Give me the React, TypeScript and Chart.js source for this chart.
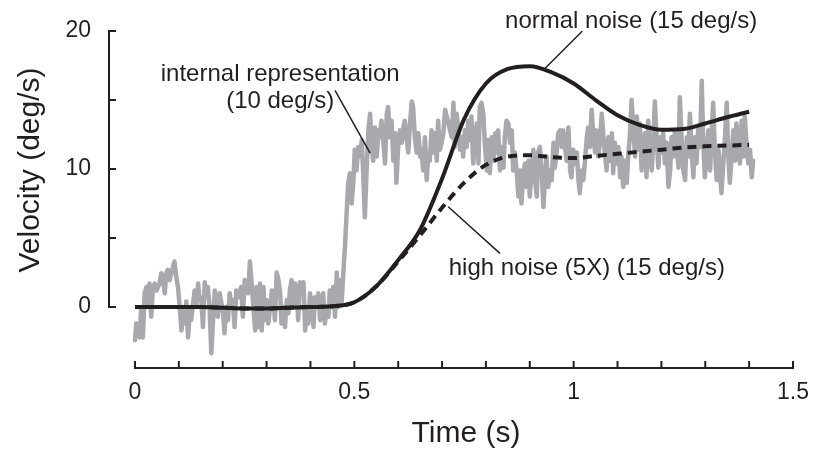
import React, { useEffect, useRef } from 'react';
import { Chart, registerables } from 'chart.js';

Chart.register(...registerables);

const FONT = '"Liberation Sans", Arial, Helvetica, sans-serif';
const INK = '#231f20';
const GRAY = '#a7a9ac';

// Axis ticks
const xTickValues = [0, 0.1, 0.2, 0.3, 0.4, 0.5, 0.6, 0.7, 0.8, 0.9, 1, 1.1, 1.2, 1.3, 1.4, 1.5];
const xLabelledTicks = [0, 0.5, 1, 1.5];
const yTickValues = [0, 5, 10, 15, 20];
const yLabelledTicks = [0, 10, 20];

// Smooth model curves
const modelTime = [0, 0.05, 0.1, 0.15, 0.2, 0.25, 0.3, 0.35, 0.4, 0.45, 0.5, 0.55, 0.6, 0.65, 0.7,
  0.75, 0.8, 0.85, 0.9, 0.95, 1.0, 1.05, 1.1, 1.15, 1.2, 1.25, 1.3, 1.35, 1.4];
const normalNoise = [0, 0, 0, 0, -0.05, -0.1, -0.1, -0.05, 0, 0.05, 0.35, 1.5, 3.4, 5.6, 9.3,
  13.6, 16.2, 17.25, 17.45, 17.0, 16.2, 15.0, 13.9, 13.2, 12.85, 12.9, 13.3, 13.75, 14.15];
const highNoise = [0, 0, 0, 0, -0.05, -0.1, -0.1, -0.05, 0, 0.05, 0.35, 1.5, 3.3, 5.2, 7.2,
  9.0, 10.3, 10.9, 11.0, 10.85, 10.8, 10.95, 11.1, 11.25, 11.4, 11.55, 11.65, 11.7, 11.75];

// Noisy internal representation trace: [time, velocity]
const internalRepresentation: [number, number][] = [
  [0.000, -2.4], [0.003, -1.2], [0.011, -2.2], [0.014, 0], [0.018, -2.2], [0.022, 1.0], [0.026, 1.45], [0.030, 0], [0.033, 1.7], [0.037, -0.7],
  [0.041, 1.45], [0.045, 1.7], [0.049, 1.2], [0.056, 1.7], [0.060, 2.45], [0.064, 1.95], [0.068, 1.0], [0.071, 2.45], [0.075, 2.7], [0.079, 1.95],
  [0.083, 2.45], [0.090, 3.3], [0.094, 2.2], [0.098, 1.45], [0.102, 0], [0.106, -1.7], [0.109, 0], [0.113, -1.2], [0.117, 0.4], [0.121, -2.2],
  [0.125, -0.2], [0.128, -0.95], [0.136, 1.2], [0.140, 0], [0.144, 1.7], [0.147, 0.5], [0.151, 0.7], [0.155, -1.45], [0.159, 1.8], [0.163, 1.0],
  [0.166, 1.45], [0.170, 0], [0.174, -3.35], [0.178, -0.95], [0.182, 1.2], [0.185, 0], [0.189, -0.7], [0.193, 1.0], [0.201, -0.45], [0.204, -1.9],
  [0.208, 0], [0.212, -0.95], [0.216, 1.0], [0.220, 0], [0.223, 0.5], [0.227, -1.45], [0.231, 1.2], [0.235, 0.7], [0.242, 1.45], [0.246, -0.7],
  [0.250, 1.95], [0.258, 1.0],
  [0.262, 3.3], [0.266, 1.7], [0.270, 0], [0.274, -1.7], [0.277, 1.45], [0.281, -1.45], [0.285, 1.7], [0.289, -1.7], [0.293, 1.45], [0.296, -0.95],
  [0.300, 0.5], [0.304, -1.2], [0.308, 0], [0.312, 1.2], [0.315, 0.7], [0.319, -0.95], [0.323, 2.5], [0.327, 1.95], [0.331, 1.0], [0.334, -1.2],
  [0.338, 0], [0.342, -1.45], [0.346, 0.5], [0.350, -0.45], [0.353, 1.2], [0.357, 1.95], [0.361, 0], [0.365, 1.7], [0.369, 1.0], [0.372, -0.95],
  [0.376, 1.8], [0.380, 1.2], [0.384, 1.8], [0.388, -1.7], [0.391, 0], [0.395, -1.2], [0.399, 1.0], [0.403, 0], [0.407, -1.45], [0.410, 0.7],
  [0.414, 0], [0.418, 1.0], [0.422, -0.95], [0.426, 0], [0.429, 1.0], [0.433, -1.2], [0.437, 0], [0.441, -0.7], [0.444, 1.2], [0.448, 0],
  [0.452, 1.45], [0.456, -0.7], [0.460, 2.5], [0.463, 0], [0.467, 1.95],
  [0.471, 0.3], [0.475, 2.5], [0.479, 4.6], [0.482, 6.5], [0.486, 9.0], [0.490, 9.7], [0.494, 7.5], [0.498, 9.2], [0.501, 11.4], [0.505, 9.9],
  [0.509, 11.6], [0.513, 10.9], [0.517, 12.1], [0.520, 9.9], [0.524, 6.5], [0.528, 9.9], [0.532, 12.8], [0.536, 14.0], [0.539, 11.9], [0.543, 10.6],
  [0.547, 13.0], [0.551, 10.9], [0.555, 12.8], [0.558, 12.3], [0.562, 13.5], [0.566, 12.1], [0.570, 10.4], [0.574, 14.0], [0.577, 14.5], [0.581, 12.3],
  [0.585, 13.5], [0.589, 10.6], [0.593, 12.6], [0.596, 9.0], [0.600, 11.6], [0.604, 12.8], [0.608, 11.9], [0.612, 13.0], [0.615, 13.5], [0.619, 12.3],
  [0.623, 11.2], [0.627, 13.3], [0.631, 14.9], [0.634, 14.5], [0.638, 12.3], [0.642, 11.2], [0.646, 12.6], [0.650, 10.9], [0.653, 11.4], [0.657, 9.9],
  [0.661, 12.3], [0.665, 9.2], [0.669, 11.2], [0.672, 10.6], [0.676, 12.8], [0.680, 11.2], [0.684, 12.6], [0.688, 10.6], [0.691, 13.5], [0.695, 11.4],
  [0.699, 11.9], [0.703, 12.6], [0.707, 14.3],
  [0.722, 12.3], [0.726, 14.8], [0.729, 11.6], [0.733, 14.0], [0.737, 13.0], [0.741, 11.4], [0.745, 12.3], [0.748, 10.9], [0.752, 12.8], [0.756, 11.6],
  [0.760, 13.5], [0.764, 12.1], [0.767, 13.8], [0.771, 10.4], [0.775, 12.3], [0.779, 13.3], [0.783, 10.4], [0.786, 14.5], [0.790, 14.8], [0.794, 14.0],
  [0.798, 11.6], [0.802, 9.9], [0.805, 12.1], [0.809, 9.7], [0.813, 12.3], [0.817, 10.6], [0.821, 12.6], [0.824, 11.2], [0.828, 12.8], [0.832, 9.9],
  [0.836, 11.6], [0.840, 10.1], [0.843, 12.3], [0.847, 13.5], [0.851, 13.3], [0.855, 11.9], [0.859, 12.8], [0.862, 9.9], [0.866, 11.2], [0.870, 9.9],
  [0.874, 8.0], [0.878, 9.9], [0.881, 7.5], [0.885, 9.4], [0.889, 10.4], [0.893, 8.7], [0.897, 10.6], [0.900, 8.0], [0.904, 9.9], [0.908, 11.4],
  [0.912, 9.2], [0.916, 8.0], [0.919, 11.2], [0.923, 11.6], [0.927, 9.9], [0.931, 7.25], [0.935, 9.4], [0.938, 10.9], [0.942, 8.7], [0.946, 9.9],
  [0.950, 9.2], [0.954, 11.9], [0.957, 10.1], [0.961, 11.2], [0.965, 12.6], [0.969, 12.8], [0.973, 11.6], [0.976, 12.8],
  [0.984, 10.6], [0.988, 13.0], [0.992, 9.9], [0.995, 9.4], [0.999, 11.4], [1.003, 10.4], [1.007, 11.2], [1.011, 9.2], [1.014, 8.25], [1.018, 9.9],
  [1.022, 9.2], [1.026, 10.6], [1.030, 12.3], [1.033, 13.0], [1.037, 11.6], [1.041, 14.3], [1.045, 12.3], [1.049, 11.2], [1.052, 12.8], [1.056, 10.9],
  [1.060, 11.9], [1.064, 14.0], [1.068, 12.3], [1.071, 11.2], [1.075, 9.9], [1.079, 12.3], [1.083, 10.6], [1.087, 12.6], [1.090, 9.7], [1.094, 11.9],
  [1.098, 10.4], [1.102, 11.6], [1.106, 9.4], [1.109, 10.9], [1.113, 8.7], [1.117, 10.6], [1.121, 9.0], [1.125, 11.2], [1.128, 12.3], [1.132, 15.0],
  [1.136, 13.0], [1.140, 10.9], [1.144, 13.8], [1.147, 11.4], [1.151, 13.3], [1.155, 9.9], [1.159, 11.6], [1.163, 12.6], [1.166, 9.4], [1.170, 13.5],
  [1.174, 11.2], [1.178, 9.9], [1.182, 12.3], [1.185, 14.9], [1.189, 12.3], [1.193, 10.1], [1.197, 12.3], [1.201, 11.2], [1.204, 12.6], [1.208, 10.4],
  [1.212, 11.9], [1.216, 8.7], [1.220, 9.9], [1.223, 12.3], [1.227, 10.9], [1.231, 12.8], [1.235, 11.4], [1.239, 10.1],
  [1.242, 15.2], [1.246, 12.3], [1.250, 9.9], [1.254, 9.2], [1.258, 12.3], [1.261, 10.9], [1.265, 14.0], [1.269, 11.2], [1.273, 9.4], [1.276, 12.3],
  [1.280, 10.4], [1.284, 13.0], [1.288, 11.6], [1.292, 16.4], [1.295, 12.3], [1.299, 9.4], [1.303, 11.2], [1.307, 12.8], [1.311, 9.9], [1.314, 12.3],
  [1.318, 14.8], [1.322, 11.2], [1.326, 9.2], [1.330, 11.4], [1.333, 9.9], [1.337, 8.25], [1.341, 10.4], [1.345, 12.3], [1.349, 14.8], [1.352, 11.2],
  [1.356, 9.0], [1.360, 10.9], [1.364, 12.8], [1.368, 10.6], [1.371, 13.3], [1.375, 11.6], [1.379, 10.4], [1.383, 13.5], [1.387, 10.9], [1.390, 13.8],
  [1.394, 11.9], [1.398, 10.4], [1.402, 11.4], [1.406, 9.4], [1.409, 10.6],
];

// Annotations (data coordinates)
const annotationTexts = [
  { text: 'internal representation', x: 0.331, y: 16.38 },
  { text: '(10 deg/s)', x: 0.331, y: 14.42 },
  { text: 'normal noise (15 deg/s)', x: 1.131, y: 20.22 },
  { text: 'high noise (5X) (15 deg/s)', x: 1.030, y: 2.32 },
];
const leaderLines = [
  { from: [0.456, 15.7], to: [0.536, 11.15] },
  { from: [1.020, 20.0], to: [0.935, 17.3] },
  { from: [0.714, 7.27], to: [0.832, 3.89] },
];

const X_MIN = -0.0615;
const X_MAX = 1.5;
const Y_MIN = -4.49;
const Y_MAX = 20;

const decorPlugin = {
  id: 'decor',
  afterDatasetsDraw(chart: any) {
    const { ctx, chartArea } = chart;
    const x = chart.scales.x;
    const y = chart.scales.y;
    ctx.save();
    ctx.strokeStyle = INK;
    ctx.lineWidth = 2;
    ctx.lineCap = 'butt';

    // Y axis (0..20) with inward ticks
    const ax = chartArea.left + 1;
    ctx.beginPath();
    ctx.moveTo(ax, y.getPixelForValue(Y_MAX) - 1);
    ctx.lineTo(ax, y.getPixelForValue(0) + 1);
    ctx.stroke();
    for (const v of yTickValues) {
      const py = y.getPixelForValue(v);
      ctx.beginPath();
      ctx.moveTo(ax, py);
      ctx.lineTo(ax + 7, py);
      ctx.stroke();
    }

    // X axis (0..1.5) with upward ticks
    const ay = chartArea.bottom - 1;
    ctx.beginPath();
    ctx.moveTo(x.getPixelForValue(0) - 1, ay);
    ctx.lineTo(x.getPixelForValue(1.5) + 1, ay);
    ctx.stroke();
    for (const v of xTickValues) {
      const px = x.getPixelForValue(v);
      ctx.beginPath();
      ctx.moveTo(px, ay);
      ctx.lineTo(px, ay - 7);
      ctx.stroke();
    }

    // Leader lines
    ctx.lineWidth = 1.5;
    for (const l of leaderLines) {
      ctx.beginPath();
      ctx.moveTo(x.getPixelForValue(l.from[0]), y.getPixelForValue(l.from[1]));
      ctx.lineTo(x.getPixelForValue(l.to[0]), y.getPixelForValue(l.to[1]));
      ctx.stroke();
    }

    // Annotation texts
    ctx.fillStyle = INK;
    ctx.font = `24px ${FONT}`;
    ctx.textAlign = 'center';
    ctx.textBaseline = 'alphabetic';
    for (const a of annotationTexts) {
      ctx.fillText(a.text, x.getPixelForValue(a.x), y.getPixelForValue(a.y));
    }

    // Axis titles
    ctx.font = `30px ${FONT}`;
    ctx.textBaseline = 'middle';
    ctx.fillText('Time (s)', 466, 434);
    ctx.save();
    ctx.translate(31, 170);
    ctx.rotate(-Math.PI / 2);
    ctx.fillText('Velocity (deg/s)', 0, 0);
    ctx.restore();

    ctx.restore();
  },
};

export default function App() {
  const canvasRef = useRef<HTMLCanvasElement | null>(null);

  useEffect(() => {
    const canvas = canvasRef.current;
    if (!canvas) return;
    const chart = new Chart(canvas, {
      type: 'line',
      data: {
        datasets: [
          {
            label: 'high noise (5X) (15 deg/s)',
            data: modelTime.map((t, i) => ({ x: t, y: highNoise[i] })),
            borderColor: INK,
            borderWidth: 4,
            borderDash: [9, 6],
            pointRadius: 0,
            cubicInterpolationMode: 'monotone',
            order: 1,
          },
          {
            label: 'normal noise (15 deg/s)',
            data: modelTime.map((t, i) => ({ x: t, y: normalNoise[i] })),
            borderColor: INK,
            borderWidth: 4,
            pointRadius: 0,
            cubicInterpolationMode: 'monotone',
            order: 2,
          },
          {
            label: 'internal representation (10 deg/s)',
            data: internalRepresentation.map(([t, v]) => ({ x: t, y: v })),
            borderColor: GRAY,
            borderWidth: 4.5,
            pointRadius: 0,
            tension: 0,
            borderJoinStyle: 'round',
            borderCapStyle: 'round',
            order: 3,
          },
        ],
      },
      options: {
        responsive: false,
        animation: false,
        events: [],
        layout: { padding: { left: 0, top: 31, right: 27, bottom: 0 } },
        plugins: { legend: { display: false }, tooltip: { enabled: false } },
        scales: {
          x: {
            type: 'linear',
            min: X_MIN,
            max: X_MAX,
            grid: { display: false, drawTicks: false },
            border: { display: false },
            afterBuildTicks: (scale: any) => {
              scale.ticks = xTickValues.map((v) => ({ value: v }));
            },
            afterFit: (scale: any) => {
              scale.height = 81;
            },
            ticks: {
              autoSkip: false,
              maxRotation: 0,
              padding: 10,
              color: INK,
              font: { family: FONT, size: 23 },
              callback: (v: any) => {
                const n = Math.round(Number(v) * 10) / 10;
                return xLabelledTicks.includes(n) ? String(n) : '';
              },
            },
          },
          y: {
            type: 'linear',
            min: Y_MIN,
            max: Y_MAX,
            grid: { display: false, drawTicks: false },
            border: { display: false },
            afterBuildTicks: (scale: any) => {
              scale.ticks = yTickValues.map((v) => ({ value: v }));
            },
            afterFit: (scale: any) => {
              scale.width = 108;
            },
            ticks: {
              autoSkip: false,
              padding: 17,
              color: INK,
              font: { family: FONT, size: 23 },
              callback: (v: any) => {
                const n = Math.round(Number(v));
                return yLabelledTicks.includes(n) ? String(n) : '';
              },
            },
          },
        },
      },
      plugins: [decorPlugin],
    });
    return () => chart.destroy();
  }, []);

  return (
    <div style={{ position: 'absolute', left: 0, top: 0, width: 820, height: 450, background: '#fff' }}>
      <canvas ref={canvasRef} width={820} height={450} style={{ display: 'block' }} />
    </div>
  );
}
